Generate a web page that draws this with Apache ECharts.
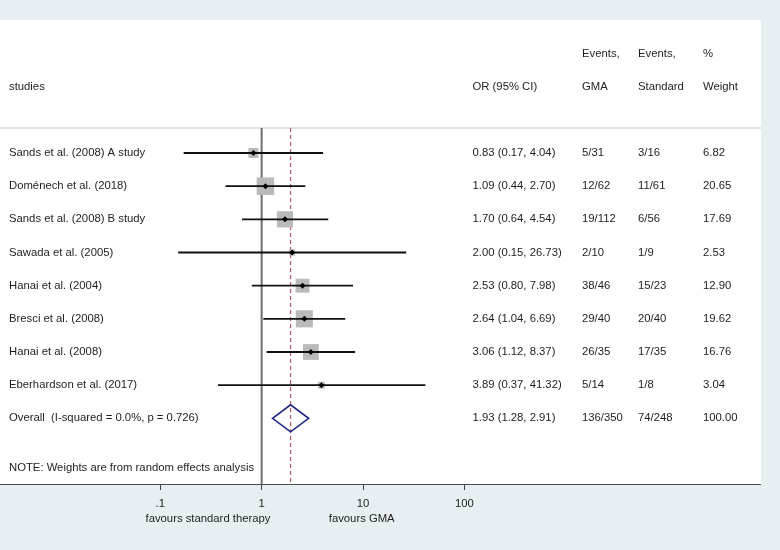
<!DOCTYPE html>
<html>
<head>
<meta charset="utf-8">
<script src="https://cdn.jsdelivr.net/npm/echarts@6/dist/echarts.min.js"></script>
<style>
html,body{margin:0;padding:0;background:#e8eff2;}
#chart{width:780px;height:550px;}
</style>
</head>
<body>
<div id="chart"></div>
<script>
const studies = ['Sands et al. (2008) A study','Doménech et al. (2018)','Sands et al. (2008) B study','Sawada et al. (2005)','Hanai et al. (2004)','Bresci et al. (2008)','Hanai et al. (2008)','Eberhardson et al. (2017)'];
const orVals = [0.83,1.09,1.70,2.00,2.53,2.64,3.06,3.89];
const ciLow = [0.17,0.44,0.64,0.15,0.80,1.04,1.12,0.37];
const ciHigh = [4.04,2.70,4.54,26.73,7.98,6.69,8.37,41.32];
const eventsGMA = ['5/31','12/62','19/112','2/10','38/46','29/40','26/35','5/14'];
const eventsStd = ['3/16','11/61','6/56','1/9','15/23','20/40','17/35','1/8'];
const weights = [6.82,20.65,17.69,2.53,12.90,19.62,16.76,3.04];

const overallLabel = 'Overall  (I-squared = 0.0%, p = 0.726)';
const overallOR = 1.93, overallLow = 1.28, overallHigh = 2.91;
const overallGMA = '136/350', overallStd = '74/248', overallWeight = '100.00';
const noteText = 'NOTE: Weights are from random effects analysis';
const tickValues = [0.1, 1, 10, 100];
const tickLabels = ['.1', '1', '10', '100'];
const headerTop = ['', '', 'Events,', 'Events,', '%'];
const headerBottom = ['studies', 'OR (95% CI)', 'GMA', 'Standard', 'Weight'];
const leftNote = 'favours standard therapy';
const rightNote = 'favours GMA';

// layout
const FONT = "'Liberation Sans', Arial, sans-serif";
const FS = 11.3;
const TXT = '#1e1e1e';
const colX = [9, 472.5, 582, 638, 703];
const headerLineY = 128;

const fmt = v => v.toFixed(2);

const tableRows = [];
tableRows.push({row: -3, cells: headerTop});
tableRows.push({row: -2, cells: headerBottom});
studies.forEach((s, i) => {
  tableRows.push({row: i, cells: [s, fmt(orVals[i]) + ' (' + fmt(ciLow[i]) + ', ' + fmt(ciHigh[i]) + ')', eventsGMA[i], eventsStd[i], fmt(weights[i])]});
});
tableRows.push({row: studies.length, cells: [overallLabel, fmt(overallOR) + ' (' + fmt(overallLow) + ', ' + fmt(overallHigh) + ')', overallGMA, overallStd, overallWeight]});
tableRows.push({row: studies.length + 1.5, cells: [noteText, '', '', '', '']});

const chart = echarts.init(document.getElementById('chart'));

const studyData = studies.map((s, i) => [orVals[i], i, ciLow[i], ciHigh[i], weights[i]]);

chart.setOption({
  backgroundColor: '#e8eff2',
  animation: false,
  grid: {left: 160.3, right: 315.7, top: 20, bottom: 66},
  xAxis: {
    type: 'log', logBase: 10, min: 0.1, max: 100,
    axisLine: {show: false, onZero: false},
    axisTick: {show: true, length: 6, lineStyle: {color: '#444', width: 1}},
    axisLabel: {
      margin: 14, color: TXT, fontFamily: FONT, fontSize: FS,
      formatter: v => {
        let best = 0;
        tickValues.forEach((t, k) => { if (Math.abs(Math.log10(t) - Math.log10(v)) < Math.abs(Math.log10(tickValues[best]) - Math.log10(v))) best = k; });
        return tickLabels[best];
      }
    },
    splitLine: {show: false}
  },
  yAxis: {type: 'value', inverse: true, min: -4.01, max: 9.98, show: false},
  graphic: [
    {type: 'rect', z: -10, shape: {x: 0, y: 20, width: 761, height: 464}, style: {fill: '#ffffff'}, silent: true},
    {type: 'line', z: 1, shape: {x1: 0, y1: headerLineY, x2: 761, y2: headerLineY}, style: {stroke: '#c9c9c9', lineWidth: 1.2}},
    {type: 'line', z: 1, shape: {x1: 0, y1: 484.5, x2: 761, y2: 484.5}, style: {stroke: '#4a4a4a', lineWidth: 1.2}},
    {type: 'text', x: 208, y: 518.5, style: {text: leftNote, fill: TXT, font: FS + 'px ' + FONT, align: 'center', verticalAlign: 'middle'}},
    {type: 'text', x: 361.7, y: 518.5, style: {text: rightNote, fill: TXT, font: FS + 'px ' + FONT, align: 'center', verticalAlign: 'middle'}}
  ],
  series: [
    {
      type: 'custom', name: 'refs', z: 1,
      data: [[1, overallOR]],
      renderItem: (params, api) => {
        const cs = params.coordSys;
        const x1 = api.coord([api.value(0), 0])[0];
        const x2 = api.coord([api.value(1), 0])[0];
        return {type: 'group', children: [
          {type: 'line', shape: {x1: x1, y1: headerLineY, x2: x1, y2: cs.y + cs.height}, style: {stroke: '#6e6e6e', lineWidth: 2}},
          {type: 'line', shape: {x1: x2, y1: headerLineY, x2: x2, y2: cs.y + cs.height}, style: {stroke: '#b8606e', lineWidth: 1.3, lineDash: [4, 3]}}
        ]};
      }
    },
    {
      type: 'custom', name: 'studies', z: 3,
      data: studyData,
      renderItem: (params, api) => {
        const c = api.coord([api.value(0), api.value(1)]);
        const lo = api.coord([api.value(2), api.value(1)]);
        const hi = api.coord([api.value(3), api.value(1)]);
        const side = 3.85 * Math.sqrt(api.value(4));
        const d = 3;
        return {type: 'group', children: [
          {type: 'rect', shape: {x: c[0] - side / 2, y: c[1] - side / 2, width: side, height: side}, style: {fill: '#bababa'}},
          {type: 'line', shape: {x1: lo[0], y1: lo[1], x2: hi[0], y2: hi[1]}, style: {stroke: '#111', lineWidth: 1.8}},
          {type: 'polygon', shape: {points: [[c[0] - d, c[1]], [c[0], c[1] - d], [c[0] + d, c[1]], [c[0], c[1] + d]]}, style: {fill: '#000'}}
        ]};
      }
    },
    {
      type: 'custom', name: 'overall', z: 3,
      data: [[overallOR, studies.length, overallLow, overallHigh]],
      renderItem: (params, api) => {
        const c = api.coord([api.value(0), api.value(1)]);
        const lo = api.coord([api.value(2), api.value(1)]);
        const hi = api.coord([api.value(3), api.value(1)]);
        const h = 13.5;
        return {type: 'polygon', shape: {points: [[lo[0], c[1]], [c[0], c[1] - h], [hi[0], c[1]], [c[0], c[1] + h]]},
          style: {fill: 'none', stroke: '#1c2580', lineWidth: 1.6}};
      }
    },
    {
      type: 'custom', name: 'table', z: 4,
      data: tableRows.map(r => [1, r.row]),
      renderItem: (params, api) => {
        const y = api.coord([1, api.value(1)])[1];
        const cells = tableRows[params.dataIndex].cells;
        const children = [];
        cells.forEach((t, k) => {
          if (!t) return;
          children.push({type: 'text', x: colX[k], y: y, style: {text: t, fill: TXT, font: FS + 'px ' + FONT, verticalAlign: 'middle', align: 'left'}});
        });
        return {type: 'group', children: children};
      }
    }
  ]
});
</script>
</body>
</html>
